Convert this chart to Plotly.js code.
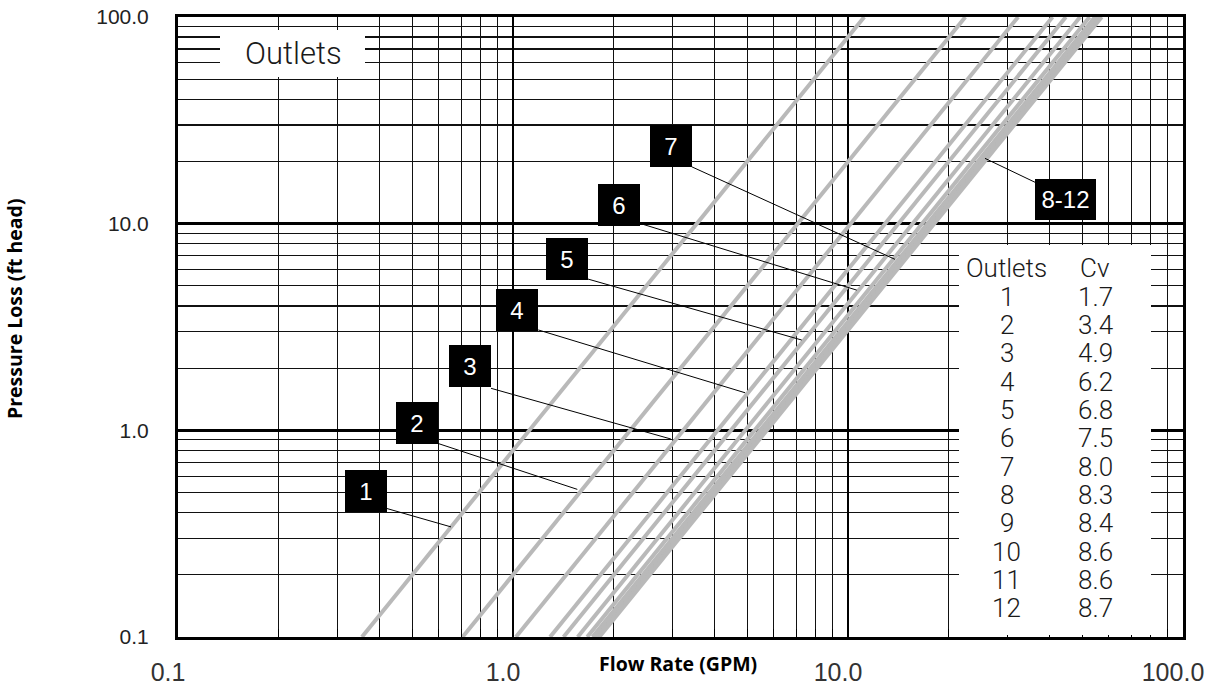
<!DOCTYPE html>
<html>
<head>
<meta charset="utf-8">
<script src="https://cdn.plot.ly/plotly-3.0.1.min.js"></script>
<style>html,body{margin:0;padding:0;background:#fff;}#chart{width:1212px;height:685px;}</style>
</head>
<body>
<div id="chart"></div>
<script>
// ---- data ----
const outlets = [1, 2, 3, 4, 5, 6, 7, 8, 9, 10, 11, 12];
const cvValues = ["1.7", "3.4", "4.9", "6.2", "6.8", "7.5", "8.0", "8.3", "8.4", "8.6", "8.6", "8.7"];
// each curve is a straight line on log-log paper: flow where it crosses 0.1 ft and 100 ft of head
const pressureEnds = [0.1, 100];
const flowAtLowEnd = [0.354, 0.707, 1.02, 1.29, 1.415, 1.56, 1.665, 1.727, 1.748, 1.79, 1.79, 1.81];
const flowAtHighEnd = [11.18, 22.4, 32.2, 40.8, 44.7, 49.3, 52.6, 54.6, 55.3, 56.6, 56.6, 57.2];
// callout labels and the point each leader touches
const calloutText = ["1", "2", "3", "4", "5", "6", "7", "8-12"];
const calloutFlow = [0.653, 1.556, 2.96, 4.93, 7.275, 10.62, 13.81, 25.64];
const calloutPressure = [0.341, 0.518, 0.908, 1.52, 2.735, 4.77, 6.72, 20.7];
// tick labels
const xTickVals = [0.1, 1, 10, 100];
const xTickText = ["0.1", "1.0", "10.0", "100.0"];
const yTickVals = [0.1, 1, 10, 100];
const yTickText = ["0.1", "1.0", "10.0", "100.0"];
const minorVals = [0.2,0.3,0.4,0.5,0.6,0.7,0.8,0.9,2,3,4,5,6,7,8,9,20,30,40,50,60,70,80,90];

// ---- placement (layout only) ----
const labelBoxFlow = [0.364, 0.517, 0.744, 1.028, 1.449, 2.072, 2.962, 44.7];
const labelBoxPressure = [0.508, 1.085, 2.05, 3.82, 6.74, 12.3, 23.7, 13.15];
const leaderTailFlow = [0.415, 0.596, 0.860, 1.19, 1.671, 2.393, 3.415, 36.4];
const leaderTailPressure = [0.421, 0.865, 1.597, 3.06, 5.40, 10.03, 18.85, 15.78];

const L = 178, R = 1183, T = 17, B = 637;
const W = 1212, H = 685;
const px2x = p => (p - L) / (R - L);
const py2y = p => (B - p) / (B - T);

const traces = [];
outlets.forEach((o, i) => {
  traces.push({
    type: 'scatter', mode: 'lines',
    x: [flowAtLowEnd[i], flowAtHighEnd[i]], y: pressureEnds,
    line: {color: '#b9b9b9', width: 4},
    name: 'Outlets ' + o + ' (Cv ' + cvValues[i] + ')',
    showlegend: false, hoverinfo: 'name'
  });
});
calloutText.forEach((t, i) => {
  traces.push({
    type: 'scatter', mode: 'lines',
    x: [leaderTailFlow[i], calloutFlow[i]], y: [leaderTailPressure[i], calloutPressure[i]],
    line: {color: '#000', width: 1},
    showlegend: false, hoverinfo: 'skip'
  });
});

const sans = '"Liberation Sans", Arial, sans-serif';
const tableFont = {family: 'Roboto, "Open Sans", sans-serif', size: 26, color: '#1a1a1a', weight: 300};
const boldFont = {family: '"Open Sans", "Noto Sans", sans-serif', size: 19.5, color: '#000', weight: 700};
const annotations = [];
calloutText.forEach((t, i) => {
  annotations.push({
    x: Math.log10(labelBoxFlow[i]), y: Math.log10(labelBoxPressure[i]),
    xref: 'x', yref: 'y', text: t, showarrow: false,
    font: {family: sans, size: 24, color: '#fff'},
    bgcolor: '#000', borderwidth: 0, borderpad: 2,
    width: t.length > 1 ? 57 : 38, height: t.length > 1 ? 37 : 38,
    xanchor: 'center', yanchor: 'middle', valign: 'middle'
  });
});
annotations.push({
  xref: 'paper', yref: 'paper', x: px2x(293), y: py2y(53), text: 'Outlets',
  showarrow: false, xanchor: 'center', yanchor: 'middle',
  font: {family: 'Roboto, "Open Sans", sans-serif', size: 31, color: '#1a1a1a', weight: 300}
});
const headY = 268.3, rowStep = 28.33, col1 = 1006.7, col2 = 1095;
annotations.push({xref: 'paper', yref: 'paper', x: px2x(col1), y: py2y(headY), text: 'Outlets',
  showarrow: false, xanchor: 'center', yanchor: 'middle', font: tableFont});
annotations.push({xref: 'paper', yref: 'paper', x: px2x(col2), y: py2y(headY), text: 'Cv',
  showarrow: false, xanchor: 'center', yanchor: 'middle', font: tableFont});
outlets.forEach((o, i) => {
  const yy = py2y(headY + rowStep * (i + 1));
  annotations.push({xref: 'paper', yref: 'paper', x: px2x(col1), y: yy, text: String(o),
    showarrow: false, xanchor: 'center', yanchor: 'middle', font: tableFont});
  annotations.push({xref: 'paper', yref: 'paper', x: px2x(col2), y: yy, text: cvValues[i],
    showarrow: false, xanchor: 'center', yanchor: 'middle', font: tableFont});
});
annotations.push({
  xref: 'paper', yref: 'paper', x: px2x(678), y: py2y(663), text: 'Flow Rate (GPM)',
  showarrow: false, xanchor: 'center', yanchor: 'middle', font: boldFont
});
annotations.push({
  xref: 'paper', yref: 'paper', x: px2x(14), y: py2y(309), text: 'Pressure Loss (ft head)',
  showarrow: false, xanchor: 'center', yanchor: 'middle', textangle: -90, font: boldFont
});

const shapes = [
  {type: 'rect', xref: 'paper', yref: 'paper', x0: px2x(959), x1: px2x(1151), y0: py2y(635), y1: py2y(245),
   fillcolor: '#fff', line: {width: 0}, layer: 'above'},
  {type: 'rect', xref: 'paper', yref: 'paper', x0: px2x(220), x1: px2x(365), y0: py2y(77), y1: py2y(30),
   fillcolor: '#fff', line: {width: 0}, layer: 'above'}
];

const layout = {
  width: W, height: H,
  margin: {l: L, r: W - R, t: T, b: H - B, pad: 0},
  paper_bgcolor: '#fff', plot_bgcolor: '#fff',
  showlegend: false,
  xaxis: {
    type: 'log', range: [-1, 2], tickmode: 'array', tickvals: xTickVals, ticktext: xTickText,
    tickfont: {family: sans, size: 25, color: '#333'},
    ticks: 'inside', ticklen: 8, tickwidth: 1, tickcolor: '#000',
    ticklabelstandoff: 11, ticklabelshift: -10,
    showgrid: true, gridcolor: '#000', gridwidth: 2.5,
    minor: {tickmode: 'array', tickvals: minorVals, showgrid: true, gridcolor: '#111', gridwidth: 1.2,
            ticks: 'inside', ticklen: 8, tickwidth: 1, tickcolor: '#000'},
    showline: true, mirror: true, linecolor: '#000', linewidth: 3, zeroline: false,
    fixedrange: true
  },
  yaxis: {
    type: 'log', range: [-1, 2], tickmode: 'array', tickvals: yTickVals, ticktext: yTickText,
    tickfont: {family: sans, size: 21, color: '#222'},
    ticks: '', ticklabelstandoff: 22,
    showgrid: true, gridcolor: '#000', gridwidth: 2.5,
    minor: {tickmode: 'array', tickvals: minorVals, showgrid: true, gridcolor: '#111', gridwidth: 1.2},
    showline: true, mirror: true, linecolor: '#000', linewidth: 3, zeroline: false,
    fixedrange: true
  },
  annotations: annotations,
  shapes: shapes
};

Plotly.newPlot('chart', traces, layout, {displayModeBar: false, staticPlot: true});
</script>
</body>
</html>
